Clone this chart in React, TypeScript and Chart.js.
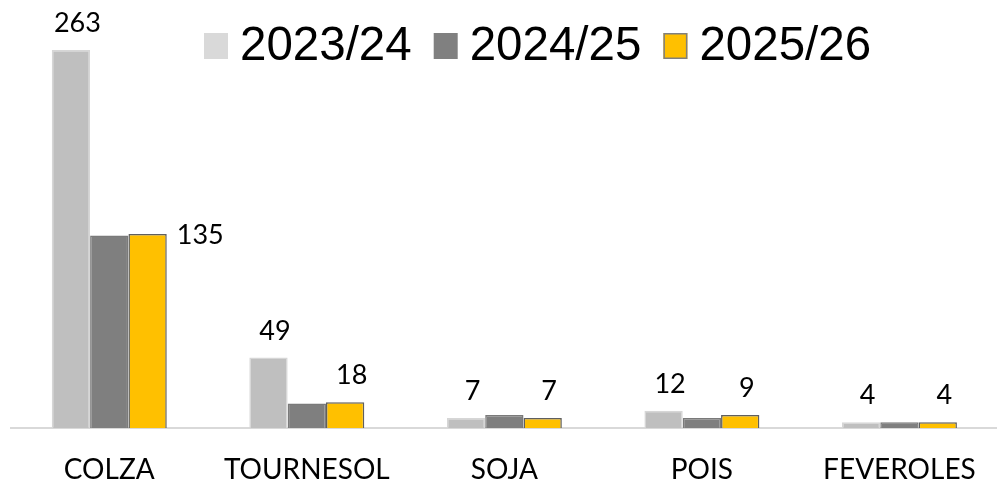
import React, { useEffect, useRef } from "react";
import { Chart, registerables } from "chart.js";

Chart.register(...registerables);

const categories = ["COLZA", "TOURNESOL", "SOJA", "POIS", "FEVEROLES"];
const seriesNames = ["2023/24", "2024/25", "2025/26"];
const values2023 = [263, 49, 7, 12, 4];
const values2024 = [134, 17, 9, 7, 4];
const values2025 = [135, 18, 7, 9, 4];
const labelledSeries = [0, 2];
const sideLabelCategories = ["COLZA"]; // labels of series 3 placed beside the bar

const FILL = ["#bfbfbf", "#7f7f7f", "#ffc000"];
const BORDER = ["#d6d6d6", "#7a7a7a", "#5f5f5f"];
const LEGEND_FILL = ["#d9d9d9", "#808080", "#ffc000"];
const LEGEND_BORDER = [null, null, "#7f7f7f"];

const valueLabelPlugin = {
  id: "valueLabels",
  afterDatasetsDraw(chart: any) {
    const ctx = chart.ctx;
    ctx.save();
    ctx.font = "27px Lato";
    ctx.fillStyle = "#000";
    ctx.textBaseline = "alphabetic";
    labelledSeries.forEach((di) => {
      const meta = chart.getDatasetMeta(di);
      meta.data.forEach((bar: any, i: number) => {
        const v = chart.data.datasets[di].data[i];
        const { x, y, width } = bar.getProps(["x", "y", "width"], true);
        const cat = chart.data.labels[i];
        if (di === 2 && sideLabelCategories.includes(cat)) {
          ctx.textAlign = "left";
          ctx.fillText(String(v), x + width / 2 + 10, y + 10);
        } else {
          ctx.textAlign = "center";
          ctx.fillText(String(v), x + 6.5, y - 18);
        }
      });
    });
    ctx.restore();
  },
};

const customLegendPlugin = {
  id: "customLegend",
  afterDraw(chart: any) {
    const ctx = chart.ctx;
    ctx.save();
    ctx.font = '47.5px "Liberation Sans", Arial, sans-serif';
    ctx.textAlign = "left";
    ctx.textBaseline = "alphabetic";
    let x = 204;
    const boxW = 24;
    const boxH = 26;
    const boxTop = 33;
    chart.data.datasets.forEach((ds: any, i: number) => {
      ctx.fillStyle = LEGEND_FILL[i];
      ctx.fillRect(x, boxTop, boxW, boxH);
      if (LEGEND_BORDER[i]) {
        ctx.strokeStyle = LEGEND_BORDER[i];
        ctx.lineWidth = 1.5;
        ctx.strokeRect(x + 0.75, boxTop + 0.75, boxW - 1.5, boxH - 1.5);
      }
      x += boxW + 12;
      ctx.fillStyle = "#000";
      ctx.fillText(ds.label, x, 60);
      x += ctx.measureText(ds.label).width + 22;
    });
    ctx.restore();
  },
};

export default function App() {
  const ref = useRef<HTMLCanvasElement | null>(null);

  useEffect(() => {
    document.body.style.margin = "0";
    const canvas = ref.current;
    if (!canvas) return;
    const series = [values2023, values2024, values2025];
    const chart = new Chart(canvas, {
      type: "bar",
      data: {
        labels: categories,
        datasets: series.map((vals, i) => ({
          label: seriesNames[i],
          data: vals,
          backgroundColor: FILL[i],
          borderColor: BORDER[i],
          borderWidth: 1.5,
          categoryPercentage: 0.582,
          barPercentage: 1,
        })),
      },
      options: {
        animation: false,
        responsive: false,
        devicePixelRatio: 1,
        layout: { padding: { left: 10.5, right: 0.5, top: 11.2, bottom: 0 } },
        plugins: {
          legend: { display: false },
          tooltip: { enabled: false },
        },
        scales: {
          x: {
            grid: { display: false, drawTicks: false },
            border: { display: true, color: "#d9d9d9", width: 2 },
            ticks: {
              color: "#000",
              font: { family: "Lato", size: 28 },
              padding: 25.2,
            },
          },
          y: {
            display: false,
            min: 0,
            max: 290,
          },
        },
      },
      plugins: [valueLabelPlugin, customLegendPlugin],
    });
    return () => chart.destroy();
  }, []);

  return (
    <div
      style={{
        position: "absolute",
        left: 0,
        top: 0,
        width: 997,
        height: 483,
        overflow: "hidden",
        background: "#fff",
      }}
    >
      <canvas ref={ref} width={1001} height={512} style={{ width: 1001, height: 512, display: "block" }} />
    </div>
  );
}
